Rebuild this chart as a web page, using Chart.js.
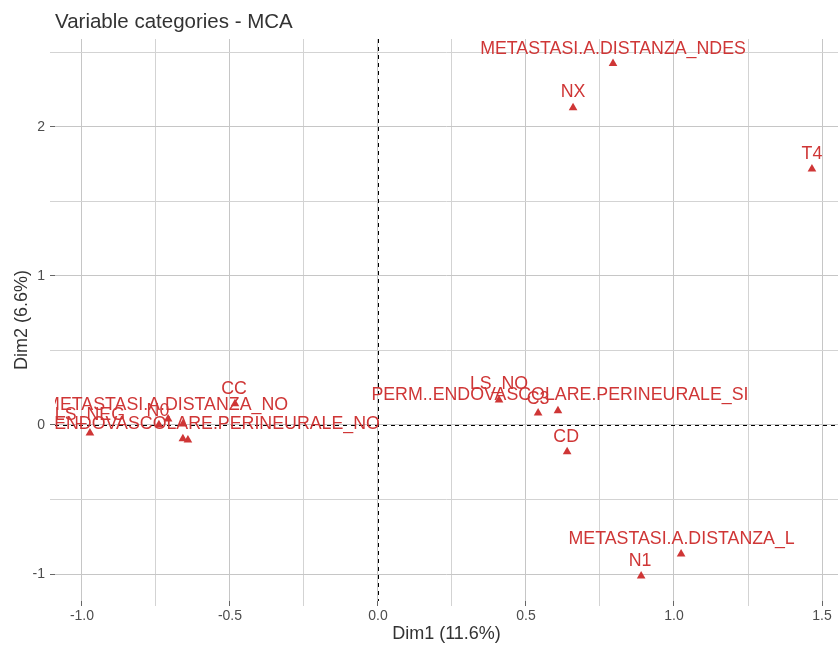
<!DOCTYPE html>
<html>
<head>
<meta charset="utf-8">
<script src="https://cdn.jsdelivr.net/npm/chart.js@4"></script>
<style>
  html, body { margin: 0; padding: 0; background: #ffffff; overflow: hidden; }
  #wrap { width: 838px; height: 645px; position: relative; }
</style>
</head>
<body>
<div id="wrap"><canvas id="c" width="838" height="645"></canvas></div>
<script>
// ---- data ----
const categories = [
  "METASTASI.A.DISTANZA_NDES",
  "NX",
  "T4",
  "METASTASI.A.DISTANZA_L",
  "N1",
  "CD",
  "LS_NO",
  "C3",
  "PERM..ENDOVASCOLARE.PERINEURALE_SI",
  "CC",
  "METASTASI.A.DISTANZA_NO",
  "N0",
  "LS_NEG",
  "PERM..ENDOVASCOLARE.PERINEURALE_NO",
  "",   // point whose label is hidden by overlap in the reference
  ""    // point whose label is hidden by overlap in the reference
];
const dim1 = [0.794, 0.659, 1.466, 1.024, 0.889, 0.639, 0.409, 0.541, 0.608, -0.483, -0.709, -0.740, -0.973, -0.642, -0.659, -0.659];
const dim2 = [2.425, 2.128, 1.718, -0.865, -1.013, -0.180, 0.168, 0.081, 0.095, 0.142, 0.041, 0.001, -0.053, -0.100, -0.093, 0.007];
const xTickLabels = [-1.0, -0.5, 0.0, 0.5, 1.0, 1.5];
const yTickLabels = [-1, 0, 1, 2];
const chartTitle = "Variable categories - MCA";
const xTitle = "Dim1 (11.6%)";
const yTitle = "Dim2 (6.6%)";

// ---- styling / layout ----
const RED = "#cf3636";
const FONT = '"Liberation Sans", Arial, Helvetica, sans-serif';
// label placement (pixel offsets of label centre from its point), mimicking the repelled labels
const labelOffset = {
  "METASTASI.A.DISTANZA_NDES": [0, -14.5],
  "NX": [0, -15.5],
  "T4": [0, -14.5],
  "METASTASI.A.DISTANZA_L": [0.5, -15],
  "N1": [-1, -14.5],
  "CD": [-1, -14.5],
  "LS_NO": [0, -16],
  "C3": [0, -14],
  "PERM..ENDOVASCOLARE.PERINEURALE_SI": [2, -15.5],
  "CC": [-1, -15],
  "METASTASI.A.DISTANZA_NO": [-1.5, -14],
  "N0": [-1, -14],
  "LS_NEG": [0, -17.5],
  "PERM..ENDOVASCOLARE.PERINEURALE_NO": [-1.5, -16]
};

const near = (v, arr) => arr.some(a => Math.abs(a - v) < 1e-9);
const isHalf = v => Math.abs(v * 2 - Math.round(v * 2)) < 1e-9;
const isInt = v => Math.abs(v - Math.round(v)) < 1e-9;

const extrasPlugin = {
  id: "extras",
  beforeDatasetsDraw(chart) {
    const { ctx, chartArea: a, scales: { x, y } } = chart;
    ctx.save();
    ctx.strokeStyle = "#000000";
    ctx.lineWidth = 1;
    ctx.setLineDash([4, 4]);
    const x0 = Math.round(x.getPixelForValue(0)) + 0.5;
    const y0 = Math.round(y.getPixelForValue(0)) + 0.5;
    ctx.beginPath();
    ctx.moveTo(x0, a.top); ctx.lineTo(x0, a.bottom);
    ctx.moveTo(a.left, y0); ctx.lineTo(a.right, y0);
    ctx.stroke();
    ctx.restore();
  },
  afterDatasetsDraw(chart) {
    const { ctx, chartArea: a, scales: { x, y } } = chart;
    ctx.save();
    ctx.beginPath();
    ctx.rect(a.left, a.top, a.right - a.left, a.bottom - a.top);
    ctx.clip();
    ctx.font = "17.8px " + FONT;
    ctx.fillStyle = RED;
    ctx.textAlign = "center";
    ctx.textBaseline = "middle";
    categories.forEach((c, i) => {
      if (!c) return;
      const off = labelOffset[c] || [0, -14];
      ctx.fillText(c, x.getPixelForValue(dim1[i]) + off[0], y.getPixelForValue(dim2[i]) + off[1]);
    });
    ctx.restore();
  },
  afterDraw(chart) {
    const { ctx } = chart;
    ctx.save();
    ctx.font = "20.5px " + FONT;
    ctx.fillStyle = "#333333";
    ctx.textAlign = "left";
    ctx.textBaseline = "alphabetic";
    ctx.fillText(chartTitle, 55, 28);
    ctx.restore();
  }
};

new Chart(document.getElementById("c"), {
  type: "scatter",
  data: {
    datasets: [{
      data: categories.map((c, i) => ({ x: dim1[i], y: dim2[i] })),
      pointStyle: "triangle",
      pointRadius: 5,
      pointHoverRadius: 5,
      backgroundColor: RED,
      borderColor: RED,
      borderWidth: 0,
      clip: false
    }]
  },
  options: {
    responsive: false,
    animation: false,
    events: [],
    layout: { autoPadding: false, padding: { top: 39, left: 0, right: 0, bottom: 0 } },
    plugins: { legend: { display: false }, tooltip: { enabled: false }, title: { display: false } },
    scales: {
      x: {
        type: "linear",
        min: -1.091,
        max: 1.554,
        afterFit(s) { s.height = 44; s.paddingLeft = 0; s.paddingRight = 0; },
        border: { display: false },
        grid: {
          color: ctx => (ctx.tick && isHalf(ctx.tick.value)) ? "#c6c6c6" : "#d3d3d3",
          lineWidth: 1,
          tickLength: 5,
          tickColor: ctx => (ctx.tick && isHalf(ctx.tick.value)) ? "#666666" : "#d3d3d3",
          drawTicks: true
        },
        ticks: {
          stepSize: 0.25,
          includeBounds: false,
          autoSkip: false,
          maxRotation: 0,
          padding: 2,
          color: "#4d4d4d",
          font: { family: FONT, size: 14 },
          callback: v => near(v, xTickLabels) ? Number(v).toFixed(1) : ""
        },
        title: {
          display: true,
          text: xTitle,
          color: "#333333",
          font: { family: FONT, size: 18 },
          padding: { top: 0, bottom: 0 }
        }
      },
      y: {
        type: "linear",
        min: -1.181,
        max: 2.59,
        afterFit(s) { s.width = 55; s.paddingTop = 0; s.paddingBottom = 0; },
        border: { display: false },
        grid: {
          color: ctx => (ctx.tick && isInt(ctx.tick.value)) ? "#c6c6c6" : "#d3d3d3",
          lineWidth: 1,
          tickLength: 5,
          tickColor: ctx => (ctx.tick && isInt(ctx.tick.value)) ? "#666666" : "#d3d3d3",
          drawTicks: true
        },
        ticks: {
          stepSize: 0.5,
          includeBounds: false,
          autoSkip: false,
          padding: 5,
          color: "#4d4d4d",
          font: { family: FONT, size: 14 },
          callback: v => near(v, yTickLabels) ? String(Math.round(v)) : ""
        },
        title: {
          display: true,
          text: yTitle,
          color: "#333333",
          font: { family: FONT, size: 18 },
          padding: { top: 11, bottom: 0 }
        }
      }
    }
  },
  plugins: [extrasPlugin]
});
</script>
</body>
</html>
